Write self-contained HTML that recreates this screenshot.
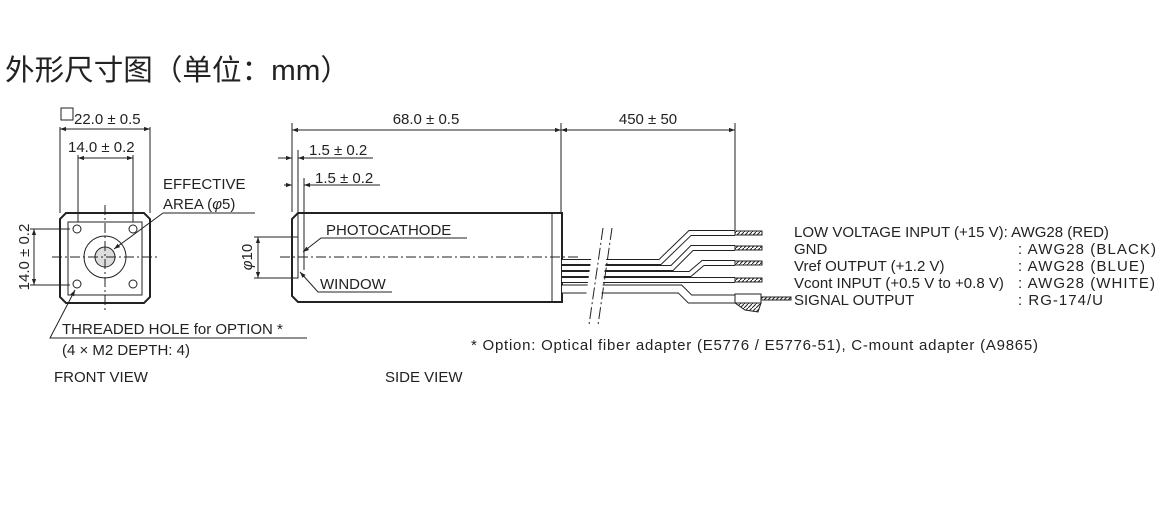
<!DOCTYPE html>
<html><head><meta charset="utf-8"><style>
body{margin:0;background:#fff;width:1167px;height:527px;overflow:hidden}
svg{display:block}
text{font-family:"Liberation Sans",Arial,sans-serif;font-size:15px;fill:#222}
</style></head><body>
<svg width="1167" height="527" viewBox="0 0 1167 527">
<defs>
<marker id="a" viewBox="0 0 10 10" refX="10" refY="5" markerWidth="8" markerHeight="6" orient="auto-start-reverse" markerUnits="userSpaceOnUse"><path d="M0,1.5 L10,5 L0,8.5z" fill="#222"/></marker>
<pattern id="h" width="4" height="4" patternUnits="userSpaceOnUse"><rect width="4" height="4" fill="#fff"/><path d="M0,4 L4,0" stroke="#222" stroke-width="1"/></pattern>
</defs>
<text x="5" y="80" textLength="345" lengthAdjust="spacingAndGlyphs" style="font-family:'Liberation Sans','Noto Sans CJK SC',sans-serif;font-size:29px">外形尺寸图（单位：mm）</text>
<g stroke="#222" fill="none" stroke-width="1">
<path d="M66,213 H144 L150,219 V297 L144,303 H66 L60,297 V219 Z" stroke-width="2"/>
<rect x="68" y="222" width="74" height="73"/>
<circle cx="77" cy="229" r="4"/><circle cx="133" cy="229" r="4"/><circle cx="77" cy="284" r="4"/><circle cx="133" cy="284" r="4"/>
<circle cx="105" cy="257" r="21"/><circle cx="105" cy="257" r="10" fill="#ddd"/>
<path d="M52,257 H158 M105,205 V310" stroke-dasharray="10,3,2,3"/>
<path d="M60,127 V213 M150,127 V213 M78,155 V222 M133,155 V222"/>
<path d="M60,129 H150" marker-start="url(#a)" marker-end="url(#a)"/>
<path d="M78,158 H133" marker-start="url(#a)" marker-end="url(#a)"/>
<rect x="61" y="108" width="12" height="12"/>
<path d="M30,229 H70 M30,285 H70"/>
<path d="M34,229 V285" marker-start="url(#a)" marker-end="url(#a)"/>
<path d="M163,213 H255 M163,213 L114,249" marker-end="url(#a)"/>
<path d="M307,338 H50 L75,290" marker-end="url(#a)"/>
<path d="M298,213 H562 V302 H298 L292,296 V219 Z" stroke-width="2"/>
<path d="M552,213 V302"/>
<rect x="292" y="237" width="6" height="41"/>
<path d="M254,237 H292 M254,278 H292"/>
<path d="M258,237 V278" marker-start="url(#a)" marker-end="url(#a)"/>
<path d="M280,257 H578" stroke-dasharray="10,3,2,3"/>
<path d="M292,123 V212 M298,150 V270 M304,178 V270 M561,123 V213 M735,123 V230"/>
<path d="M292,130 H561" marker-start="url(#a)" marker-end="url(#a)"/>
<path d="M561,130 H735" marker-start="url(#a)" marker-end="url(#a)"/>
<path d="M278,158 H292" marker-end="url(#a)"/><path d="M373,158 H298" marker-end="url(#a)"/>
<path d="M284,185 H292" marker-end="url(#a)"/><path d="M380,185 H304" marker-end="url(#a)"/>
<path d="M467,238 H321 L303,252" marker-end="url(#a)"/>
<path d="M392,292 H318 L300,272" marker-end="url(#a)"/>
</g>
<g fill="none" stroke-linejoin="miter">
<g stroke="#222" stroke-width="6">
<path d="M562,262 H660 L690,233 H735"/><path d="M562,268 H672 L692,248 H735"/><path d="M562,274 H690 L703,263 H735"/><path d="M562,280 H735"/>
</g>
<path d="M562,289 H680 L690,299 H735" stroke="#222" stroke-width="9"/>
<g stroke="#fff" stroke-width="4">
<path d="M562,262 H660 L690,233 H735"/><path d="M562,268 H672 L692,248 H735"/><path d="M562,274 H690 L703,263 H735"/><path d="M562,280 H735"/>
</g>
<path d="M562,289 H680 L690,299 H735" stroke="#fff" stroke-width="7"/>
</g>
<polygon points="596,225 611,225 597,325 582,325" fill="#fff"/>
<g stroke="#222" stroke-width="1" stroke-dasharray="12,3,2,3">
<path d="M603,228 L589,325"/><path d="M612,228 L598,325"/>
</g>
<g stroke="#222" stroke-width="1">
<rect x="735" y="231" width="27" height="4" fill="url(#h)"/>
<rect x="735" y="246" width="27" height="4" fill="url(#h)"/>
<rect x="735" y="261" width="27" height="4" fill="url(#h)"/>
<rect x="735" y="278" width="27" height="4" fill="url(#h)"/>
<rect x="735" y="294" width="26" height="9" fill="#fff"/>
<rect x="761" y="297" width="30" height="3" fill="url(#h)"/>
<polygon points="735,303 761,303 758,312 745,310" fill="url(#h)"/>
</g>
<text x="163" y="189">EFFECTIVE</text>
<text x="163" y="209">AREA (<tspan font-style="italic">φ</tspan>5)</text>
<text x="74" y="124">22.0 ± 0.5</text>
<text x="68" y="152">14.0 ± 0.2</text>
<text transform="translate(29,257) rotate(-90)" text-anchor="middle">14.0 ± 0.2</text>
<text x="62" y="334">THREADED HOLE for OPTION *</text>
<text x="62" y="355">(4 × M2 DEPTH: 4)</text>
<text x="54" y="382">FRONT VIEW</text>
<text x="385" y="382">SIDE VIEW</text>
<text x="426" y="124" text-anchor="middle">68.0 ± 0.5</text>
<text x="648" y="124" text-anchor="middle">450 ± 50</text>
<text x="309" y="155">1.5 ± 0.2</text>
<text x="315" y="183">1.5 ± 0.2</text>
<text transform="translate(252,257) rotate(-90)" text-anchor="middle"><tspan font-style="italic">φ</tspan>10</text>
<text x="326" y="235">PHOTOCATHODE</text>
<text x="320" y="289">WINDOW</text>
<text x="794" y="237">LOW VOLTAGE INPUT (+15 V): AWG28 (RED)</text>
<text x="794" y="254">GND</text><text x="1018" y="254" textLength="138">: AWG28 (BLACK)</text>
<text x="794" y="271">Vref OUTPUT (+1.2 V)</text><text x="1018" y="271" textLength="127">: AWG28 (BLUE)</text>
<text x="794" y="288">Vcont INPUT (+0.5 V to +0.8 V)</text><text x="1018" y="288" textLength="137">: AWG28 (WHITE)</text>
<text x="794" y="305">SIGNAL OUTPUT</text><text x="1018" y="305" textLength="85">: RG-174/U</text>
<text x="471" y="350" textLength="567">* Option: Optical fiber adapter (E5776 / E5776-51), C-mount adapter (A9865)</text>
</svg>
</body></html>
